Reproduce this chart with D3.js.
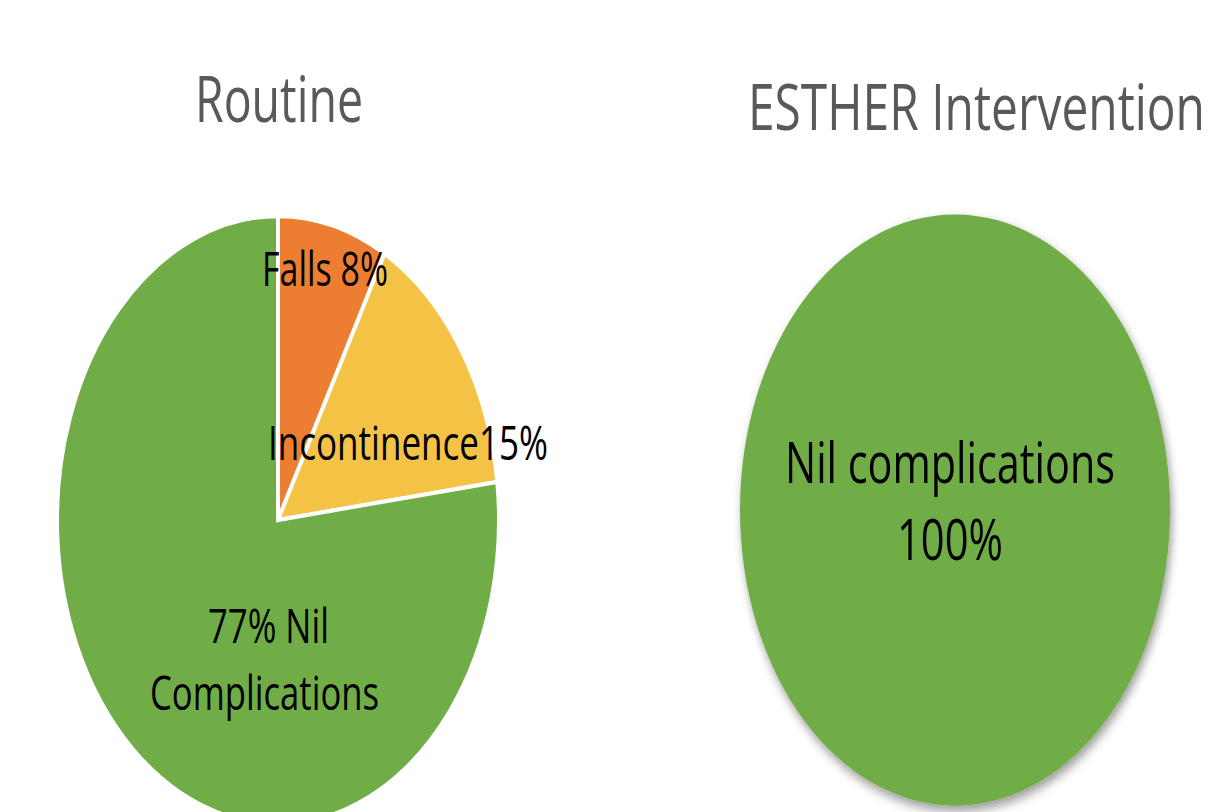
<!DOCTYPE html>
<html>
<head>
<meta charset="utf-8">
<script src="https://cdn.jsdelivr.net/npm/d3@7"></script>
<style>
  body { margin: 0; background: #fff; }
  svg { display: block; }
</style>
</head>
<body>
<div id="chart"></div>
<script>
// data
var chartTitles = ['Routine', 'ESTHER Intervention']
var routineCategories = ['Falls', 'Incontinence', 'Nil Complications']
var routineValues = [8, 15, 77]
var routineLabelLines = [['Falls 8%'], ['Incontinence15%'], ['77% Nil', 'Complications']]
var estherCategories = ['Nil complications']
var estherValues = [100]
var estherLabelLines = [['Nil complications', '100%']]

var w = 1209
var h = 812
var ky = 1.375 // the picture is stretched vertically

var color = d3.scaleOrdinal()
  .domain(['Falls', 'Incontinence', 'Nil Complications', 'Nil complications'])
  .range(['#ed7d31', '#f4c245', '#70ad47', '#70ad47'])

var svg = d3.select('#chart')
  .append('svg')
  .attr('width', w)
  .attr('height', h)

var defs = svg.append('defs')
var shadow = defs.append('filter')
  .attr('id', 'shadow')
  .attr('x', '-10%').attr('y', '-10%')
  .attr('width', '130%').attr('height', '130%')
shadow.append('feDropShadow')
  .attr('dx', 2).attr('dy', 4)
  .attr('stdDeviation', 4)
  .attr('flood-color', '#000')
  .attr('flood-opacity', 0.4)

// pie layouts: centre, radius, label anchors (x, baseline, width of each line)
var pies = [
  {
    cx: 278, cy: 520, r: 221,
    cats: routineCategories, vals: routineValues, lines: routineLabelLines,
    labelPos: [
      [[262, 286, 126]],
      [[268, 460, 280]],
      [[208, 643, 121], [150, 710, 229]]
    ],
    labelCap: 34,
    title: [195, 122, 168],
    shadow: false
  },
  {
    cx: 955, cy: 510, r: 215,
    cats: estherCategories, vals: estherValues, lines: estherLabelLines,
    labelPos: [
      [[785, 483, 330], [897, 560, 106]]
    ],
    labelCap: 40,
    title: [748, 130, 457],
    shadow: true
  }
]

var pie = d3.pie()
  .sort(null)
  .value(d => d.value)

function addText(x, y, width, cap, str, fill) {
  svg.append('text')
    .attr('transform', `translate(${x},${y}) scale(1,${ky})`)
    .attr('x', 0)
    .attr('y', 0)
    .attr('text-anchor', 'start')
    .style('font-family', '"Open Sans", sans-serif')
    .style('font-size', (cap / ky / 0.714) + 'px')
    .attr('textLength', width)
    .attr('lengthAdjust', 'spacingAndGlyphs')
    .attr('fill', fill)
    .text(str)
}

pies.forEach((p, i) => {
  var data = p.cats.map((c, j) => ({ cat: c, value: p.vals[j] }))
  var arc = d3.arc()
    .innerRadius(0)
    .outerRadius(p.r)

  var g = svg.append('g')
    .attr('transform', `translate(${p.cx},${p.cy}) scale(1,${ky})`)
    .attr('filter', p.shadow ? 'url(#shadow)' : null)

  g.selectAll('path')
    .data(pie(data))
    .enter()
    .append('path')
    .attr('d', arc)
    .attr('fill', d => color(d.data.cat))
    .attr('stroke', data.length > 1 ? '#fff' : 'none')
    .attr('stroke-width', 4)
    .attr('vector-effect', 'non-scaling-stroke')

  // title
  addText(p.title[0], p.title[1], p.title[2], 46, chartTitles[i], '#595959')

  // slice labels
  p.lines.forEach((lines, j) => {
    lines.forEach((str, k) => {
      var pos = p.labelPos[j][k]
      addText(pos[0], pos[1], pos[2], p.labelCap, str, '#000')
    })
  })
})
</script>
</body>
</html>
